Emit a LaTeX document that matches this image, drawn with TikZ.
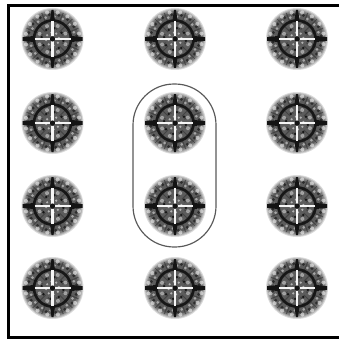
\documentclass[tikz,border=0pt]{standalone}
\usetikzlibrary{calc}
\definecolor{DiscDark}{gray}{0.08}
\tikzset{
    frame/.style={line width=2.6, black},
    pill/.style={draw=black!65, line width=1, rounded corners=35},
    slit/.style={white, line width=2.1, opacity=.95},
    speck/.style={fill=white, draw=none},
    blot/.style={fill=black, draw=none},
    target/.pic={
        % body of the disc
        \fill[black!64] (0,0) circle (27);
        \foreach \r/\c in {31/14, 30/28, 29/40, 28/52}
            \fill[black!\c, even odd rule] (0,0) circle (\r) circle (\r-1.5);
        % mottling
        \foreach \a in {0,22.5,...,337.5} {
            \draw[black!80, line width=.9, opacity=.6] (\a:10) -- (\a:28);
            \fill[speck, opacity=.55] (\a+11:27) circle (2.1);
            \fill[speck, opacity=.45] (\a+5:22.5) circle (1.5);
            \fill[blot, opacity=.5] (\a+15:24.5) circle (1.6);
        }
        \foreach \a in {0,45,...,315} {
            \fill[black!15, opacity=.6] (\a+22:14) circle (2);
            \fill[blot, opacity=.75] (\a+10:11) circle (1.4);
            \fill[black!30] (\a+35:6.5) circle (1.2);
        }
        % ring and spokes
        \draw[DiscDark, line width=2.3, opacity=.95] (0,0) circle (18.5);
        \fill[DiscDark] (-18,3.2) -- (-30,1.8) -- (-30,-1.8) -- (-18,-3.2) -- cycle;
        \fill[DiscDark] (18,3.2) -- (30,1.8) -- (30,-1.8) -- (18,-3.2) -- cycle;
        \fill[DiscDark] (2.6,18) -- (1,29) -- (-1,29) -- (-2.6,18) -- cycle;
        \fill[DiscDark] (2.6,-18) -- (1,-29) -- (-1,-29) -- (-2.6,-18) -- cycle;
        \draw[slit] (-18,0) -- (-2.5,0);
        \draw[slit] (2.5,0) -- (18,0);
        \draw[slit] (0,-18) -- (0,-2.5);
        \draw[slit] (0,2.5) -- (0,18);
        \fill[DiscDark] (0,0) circle (2.6);
    },
}
\begin{document}
\begin{tikzpicture}[x=0.03cm, y=-0.03cm]
\useasboundingbox (0,0) rectangle (339,339);

% outer frame, open on the right
\draw[frame] (339,5.5) -- (8.5,5.5) -- (8.5,338) -- (339,338);

% discs
\foreach \cx in {52.5,175,297}
    \foreach \cy in {39,123,206,288}
        \pic at (\cx,\cy) {target};

% pill round the middle pair
\draw[pill] (133,84) rectangle (216,247);

\end{tikzpicture}
\end{document}
